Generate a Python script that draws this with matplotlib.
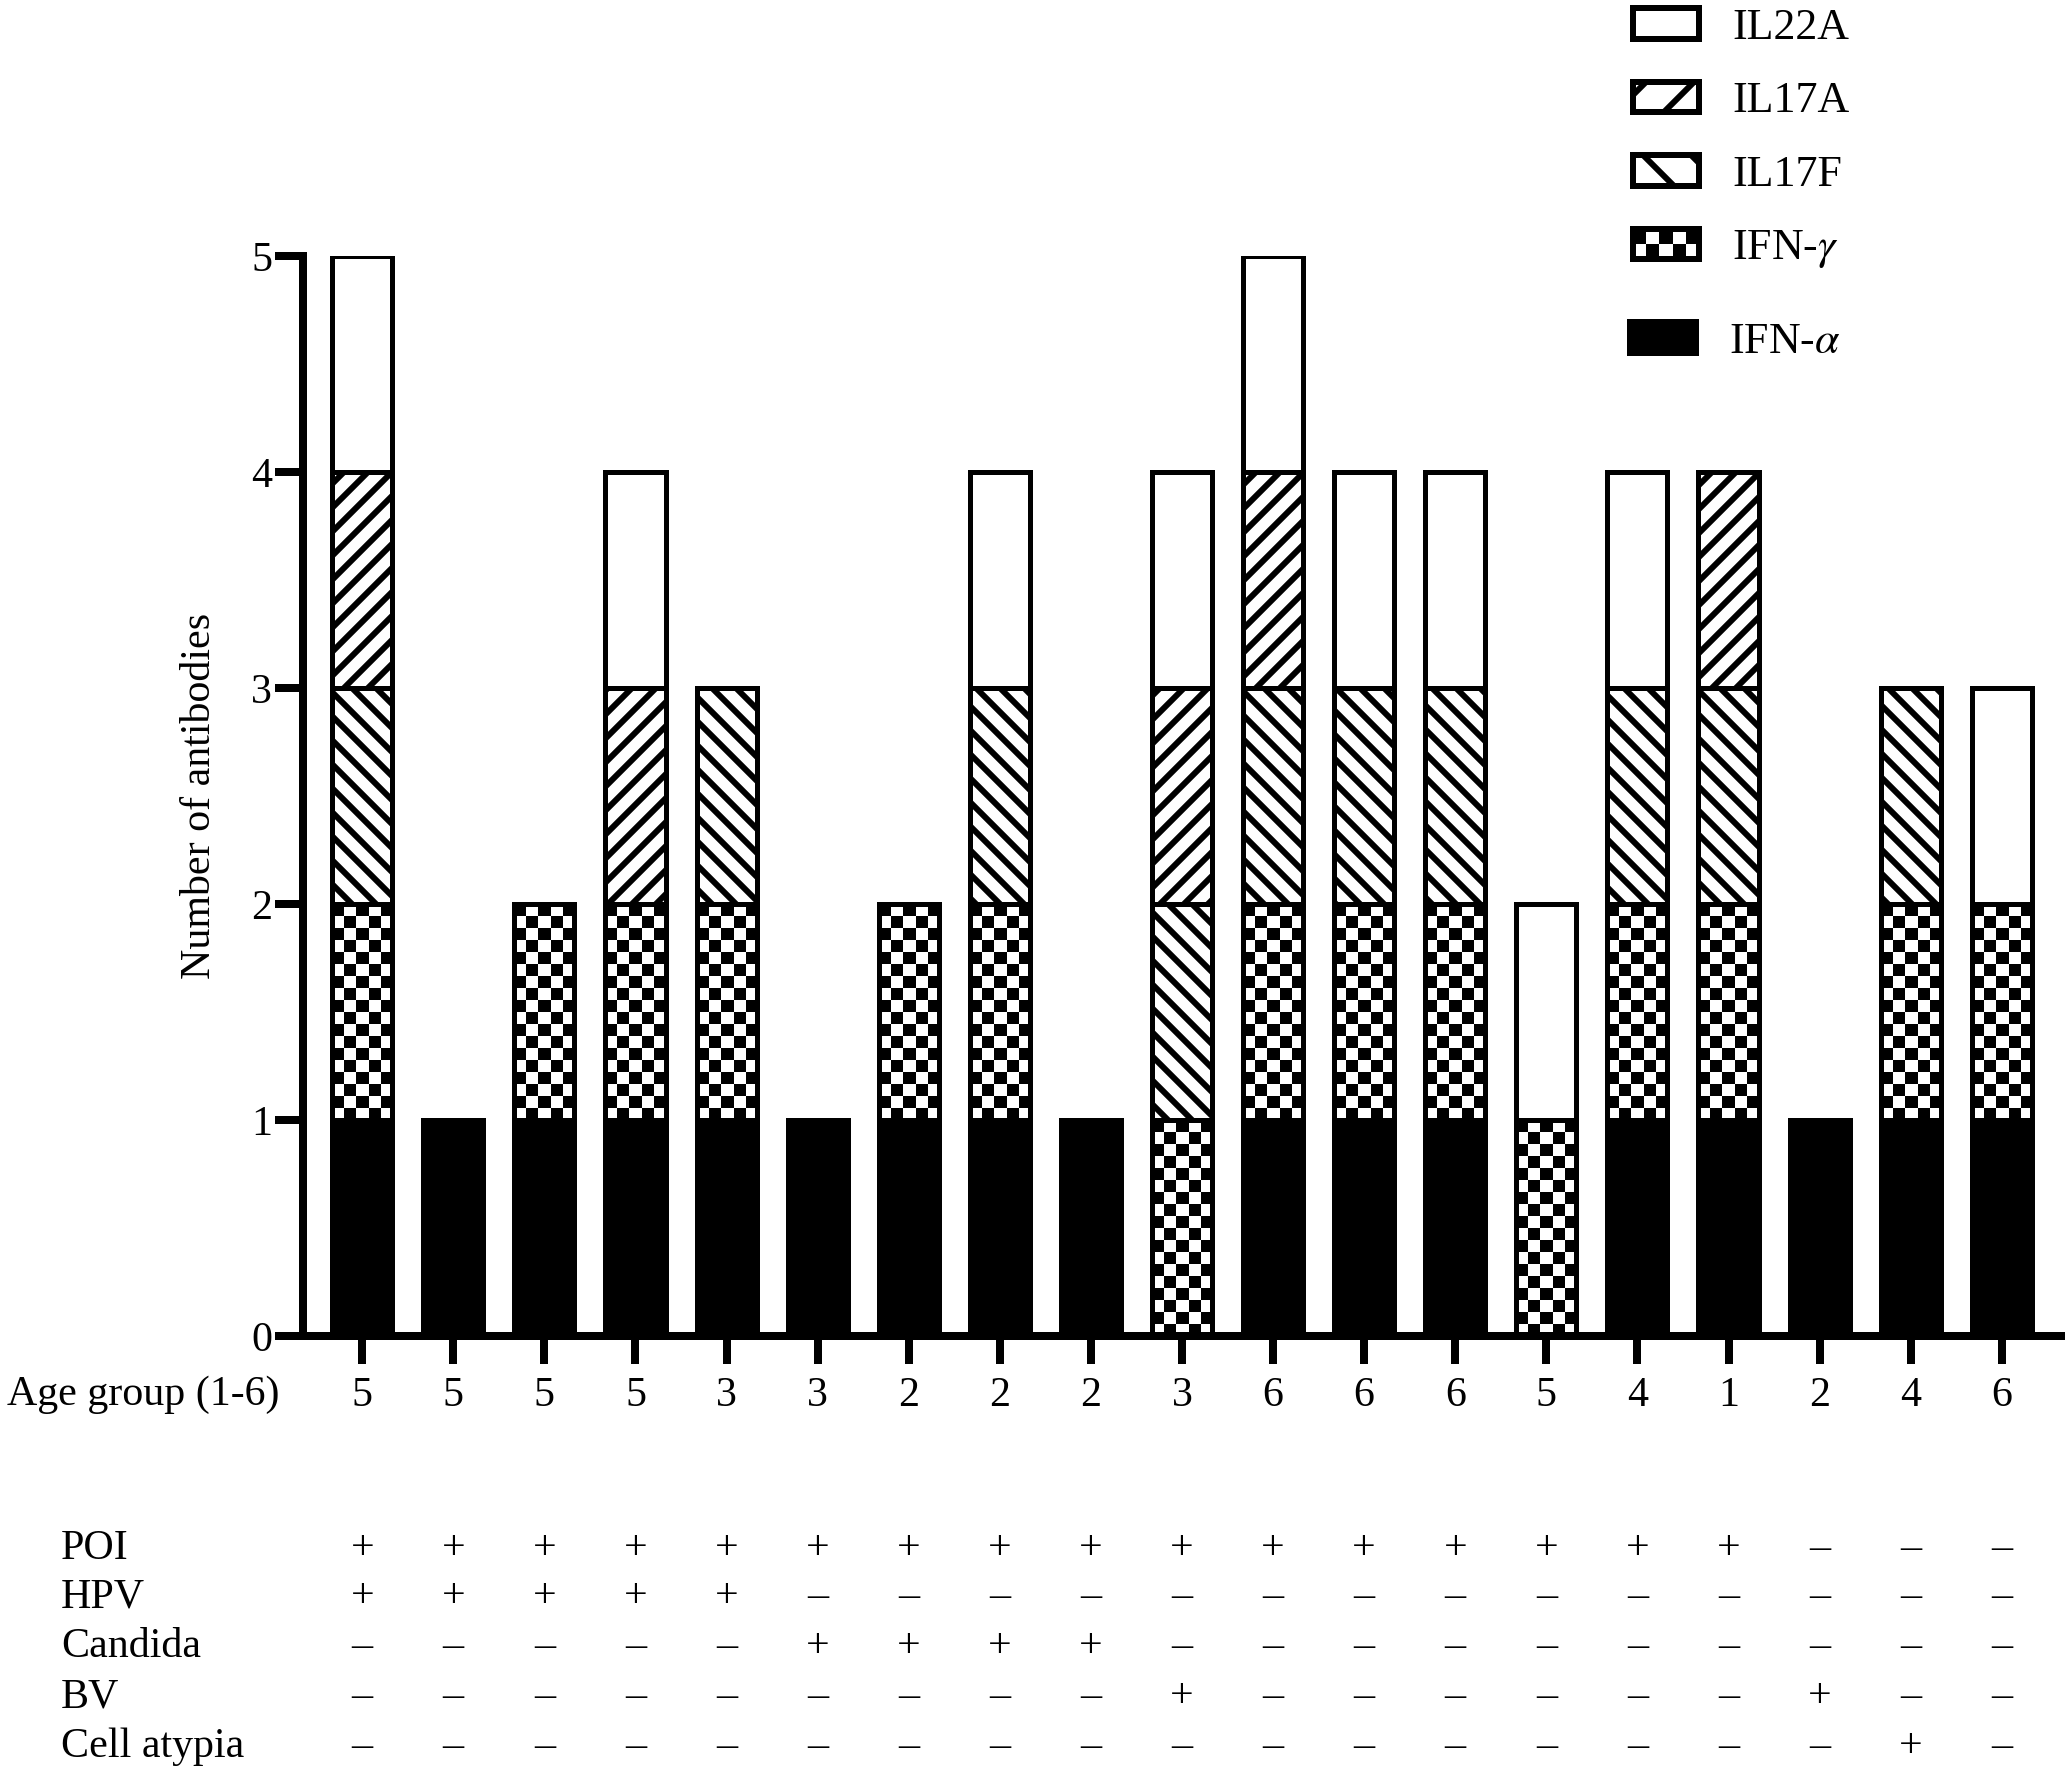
import numpy as np
import matplotlib
matplotlib.use('Agg')
import matplotlib.pyplot as plt
from matplotlib.patches import Patch, Rectangle
from matplotlib.legend_handler import HandlerBase
from matplotlib import transforms

# bar data, one value per patient (bottom -> top of stack)
ages = [5, 5, 5, 5, 3, 3, 2, 2, 2, 3, 6, 6, 6, 5, 4, 1, 2, 4, 6]
ifn_alpha = [1, 1, 1, 1, 1, 1, 1, 1, 1, 0, 1, 1, 1, 0, 1, 1, 1, 1, 1]
ifn_gamma = [1, 0, 1, 1, 1, 0, 1, 1, 0, 1, 1, 1, 1, 1, 1, 1, 0, 1, 1]
il17f = [1, 0, 0, 0, 1, 0, 0, 1, 0, 1, 1, 1, 1, 0, 1, 1, 0, 1, 0]
il17a = [1, 0, 0, 1, 0, 0, 0, 0, 0, 1, 1, 0, 0, 0, 0, 1, 0, 0, 0]
il22a = [1, 0, 0, 1, 0, 0, 0, 1, 0, 1, 1, 1, 1, 1, 1, 0, 0, 0, 1]

# clinical table under the chart
row_names = ['POI', 'HPV', 'Candida', 'BV', 'Cell atypia']
poi = '++++++++++++++++---'
hpv = '+++++--------------'
candida = '-----++++----------'
bv = '---------+------+--'
atypia = '-----------------+-'

plt.rcParams['font.family'] = ['Liberation Serif', 'DejaVu Serif']
plt.rcParams['mathtext.fontset'] = 'stix'
plt.rcParams['hatch.linewidth'] = 3

W, H, DPI = 2067, 1772, 144
fig = plt.figure(figsize=(W / DPI, H / DPI), dpi=DPI)
ax = fig.add_axes([303 / W, 1 - 1336 / H, 1758 / W, 1080 / H])

x = np.arange(len(ages))
w = 0.66
bottom = np.zeros(len(ages))
checker = np.indices((18, 5)).sum(axis=0) % 2
EW = 2.5

series = [(ifn_alpha, 'alpha'), (ifn_gamma, 'gamma'), (il17f, 'il17f'),
          (il17a, 'il17a'), (il22a, 'il22a')]
for vals, key in series:
    vals = np.array(vals, dtype=float)
    m = vals > 0
    if key == 'alpha':
        ax.bar(x[m], vals[m], w, bottom=bottom[m], color='black',
               edgecolor='black', lw=EW, zorder=2)
    elif key == 'gamma':
        bars = ax.bar(x[m], vals[m], w, bottom=bottom[m], fill=False,
                      edgecolor='black', lw=EW, zorder=2)
        for p in bars.patches:
            im = ax.imshow(checker, cmap='gray', vmin=0, vmax=1,
                           interpolation='nearest', aspect='auto', zorder=1.5,
                           extent=(p.get_x(), p.get_x() + p.get_width(),
                                   p.get_y(), p.get_y() + p.get_height()))
            im.set_clip_path(p)
    else:
        hatch = {'il17f': '\\\\', 'il17a': '//', 'il22a': None}[key]
        ax.bar(x[m], vals[m], w, bottom=bottom[m], facecolor='white',
               edgecolor='black', hatch=hatch, lw=EW, zorder=2)
    bottom += vals

ax.set_xlim(-0.65, len(ages) - 1 + 0.65)
ax.set_ylim(0, 5)
ax.set_xticks(x)
ax.set_xticklabels(ages)
ax.set_yticks(range(6))
ax.tick_params(axis='both', width=4, length=14, direction='out', labelsize=21)
ax.tick_params(axis='x', pad=6)
ax.tick_params(axis='y', pad=1.5)
for s in ['top', 'right']:
    ax.spines[s].set_visible(False)
for s in ['left', 'bottom']:
    ax.spines[s].set_linewidth(4)
    ax.spines[s].set_capstyle('projecting')

ax.set_ylabel('Number of antibodies', fontsize=21)
ax.yaxis.set_label_coords(-0.048, 0.5)

fig.text(7 / W, 1 - 1405 / H, 'Age group (1-6)', fontsize=21, va='baseline')

# table rows
trans = transforms.blended_transform_factory(ax.transData, fig.transFigure)
row_base = [1559, 1607, 1657, 1707, 1757]
for name, row, yb in zip(row_names, [poi, hpv, candida, bv, atypia], row_base):
    yf = 1 - yb / H
    fig.text(61 / W, yf, name, fontsize=21, va='baseline')
    for i, s in enumerate(row):
        ax.text(x[i], yf, '+' if s == '+' else '\u2013', transform=trans,
                ha='center', va='baseline', fontsize=21, clip_on=False)


class CheckerHandler(HandlerBase):
    def create_artists(self, legend, orig_handle, xdescent, ydescent,
                       width, height, fontsize, trans):
        x0, y0 = -xdescent, -ydescent
        nx, ny = 5, 2
        cw, ch = width / nx, height / ny
        arts = []
        for i in range(nx):
            for j in range(ny):
                if (i + j) % 2 == 1:
                    arts.append(Rectangle((x0 + i * cw, y0 + j * ch), cw, ch,
                                          facecolor='black', edgecolor='none',
                                          transform=trans))
        arts.append(Rectangle((x0, y0), width, height, facecolor='none',
                              edgecolor='black', lw=3, transform=trans))
        return arts


handles = [
    Patch(facecolor='white', edgecolor='black', lw=3, label='IL22A'),
    Patch(facecolor='white', edgecolor='black', lw=3, hatch='/', label='IL17A'),
    Patch(facecolor='white', edgecolor='black', lw=3, hatch='\\', label='IL17F'),
    Patch(facecolor='white', edgecolor='black', lw=3, label='IFN-$\\gamma$'),
]
alpha_handle = Patch(facecolor='black', edgecolor='black', lw=3,
                     label='IFN-$\\alpha$')
leg_kw = dict(loc='upper left', bbox_transform=fig.transFigure, frameon=False,
              fontsize=22, handlelength=1.5, handleheight=0.68,
              handletextpad=0.75, borderpad=0, borderaxespad=0)
leg1 = ax.legend(handles=handles, handler_map={handles[3]: CheckerHandler()},
                 bbox_to_anchor=(1633 / W, 1 - 8 / H), labelspacing=0.76,
                 **leg_kw)
ax.add_artist(leg1)
ax.legend(handles=[alpha_handle], bbox_to_anchor=(1630 / W, 1 - 322 / H),
          **leg_kw)

fig.savefig('out.png', dpi=DPI)
